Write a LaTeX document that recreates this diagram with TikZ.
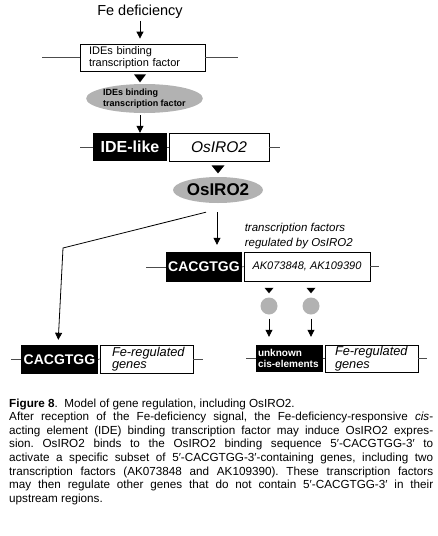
\documentclass[tikz,border=0pt]{standalone}
\usepackage{fontspec}
\setmainfont{Liberation Sans}
\usetikzlibrary{arrows.meta,shapes.geometric,positioning,calc}

\begin{document}
\begin{tikzpicture}[x=1pt, y=-1pt,
    wbox/.style={draw, line width=0.8pt, inner sep=0pt, align=left},
    bbox/.style={fill=black, text=white, inner sep=0pt, align=left},
    goval/.style={ellipse, fill=black!30, inner sep=0pt, align=left},
    gdot/.style={circle, fill=black!30, minimum size=17pt, inner sep=0pt},
    arr/.style={-{Triangle[length=7pt,width=7pt]}, line width=0.8pt},
    dna/.style={line width=0.8pt, black!70},
    tri/.style={fill=black},
]
\useasboundingbox (0,0) rectangle (438,536);

% ── Fe deficiency -> IDE binding factor ──
\node[inner sep=0pt, font=\fontsize{14.5}{16}\selectfont] (fe) at (140,12) {Fe deficiency};
\node[wbox, inner xsep=9pt, text width=107pt, minimum height=27pt, font=\fontsize{11}{12}\selectfont] (tfg) at (142.5,57.5) {IDEs binding\\transcription factor};
\draw[dna] (tfg.west) -- ++(-38,0);
\draw[dna] (tfg.east) -- ++(33,0);
\draw[arr, shorten <=2pt, shorten >=5pt] (fe.south) -- (fe.south |- tfg.north);
\fill[tri] ($(tfg.south)+(-8.5,3)$) -- ++(12,0) -- ++(-6,8) -- cycle;

\node[goval, minimum width=115pt, minimum height=29pt, font=\fontsize{9}{10.5}\selectfont\bfseries] (tfo) at (144.5,98.5) {IDEs binding\\transcription factor};

% ── IDE-like / OsIRO2 gene ──
\node[bbox, minimum width=74pt, minimum height=28pt, font=\fontsize{16}{18}\selectfont\bfseries] (ide) at (130,147) {IDE-like};
\node[wbox, minimum width=100pt, minimum height=28pt, font=\fontsize{15.5}{17}\selectfont\itshape] (iro) at (219,147) {OsIRO2};
\draw[dna] (ide.west) -- ++(-13,0);
\draw[dna] (ide.east) -- (iro.west);
\draw[dna] (iro.east) -- ++(11,0);
\draw[arr, shorten <=2pt] (tfo.south -| fe.south) -- (fe.south |- ide.north);
\fill[tri] ($(iro.south)+(-7.5,4)$) -- ++(13,0) -- ++(-6.5,8) -- cycle;

\node[goval, minimum width=90pt, minimum height=26pt, font=\fontsize{17}{19}\selectfont\bfseries] (irop) at (218,190) {OsIRO2};
\coordinate (vs) at ($(irop.south)+(-1,9)$);
\coordinate (ds) at ($(irop.south)+(-12,9)$);
\coordinate (bend) at (63,248);

% ── CACGTGG target: transcription factors ──
\node[bbox, minimum width=76pt, minimum height=30pt, font=\fontsize{14}{16}\selectfont\bfseries] (cacA) at (204,267) {CACGTGG};
\node[wbox, minimum width=126pt, minimum height=29pt, font=\fontsize{11}{12}\selectfont\itshape] (ak) at (307,266.5) {AK073848, AK109390};
\node[anchor=south west, inner xsep=1pt, inner ysep=3pt, align=left, font=\fontsize{11.5}{15}\selectfont\itshape] (tfl) at (ak.north west) {transcription factors\\regulated by OsIRO2};
\draw[dna] (cacA.west) -- ++(-20,0);
\draw[dna] (cacA.east) -- (ak.west);
\draw[dna] (ak.east) -- ++(9,0);
\draw[arr, shorten >=7pt] (vs) -- (vs |- cacA.north);

% ── CACGTGG target: Fe-regulated genes ──
\node[bbox, minimum width=77pt, minimum height=29pt, font=\fontsize{14}{16}\selectfont\bfseries] (cacB) at (59.5,359.5) {CACGTGG};
\node[wbox, inner xsep=12pt, text width=69pt, minimum height=28pt, font=\fontsize{12.8}{12.5}\selectfont\itshape] (feg) at (146.5,359) {\mbox{Fe-regulated}\\genes};
\draw[dna] (cacB.west) -- ++(-10,0);
\draw[dna] (cacB.east) -- (feg.west);
\draw[dna] (feg.east) -- ++(10,0);
\draw[arr, shorten >=5pt] (ds) -- (bend) -- ($(cacB.north)+(-1.5,0)$);

% ── unknown cis-elements ──
\node[bbox, inner xsep=2pt, text width=63pt, minimum height=27pt, font=\fontsize{10}{11}\selectfont\bfseries] (unk) at (289.5,358.5) {unknown\\cis-elements};
\node[wbox, inner xsep=10pt, text width=73pt, minimum height=27pt, font=\fontsize{12.8}{12.5}\selectfont\itshape] (fegB) at (371.5,358.5) {\mbox{Fe-regulated}\\genes};
\draw[dna] (unk.west) -- ++(-10,0);
\draw[dna] (unk.east) -- (fegB.west);
\draw[dna] (fegB.east) -- ++(9,0);

\node[gdot] (dA) at (269,306) {};
\node[gdot] (dB) at (311,306) {};
\foreach \d in {dA,dB} {
  \fill[tri] ($(\d.north)+(-4.5,-9.5)$) -- ++(9,0) -- ++(-4.5,5.5) -- cycle;
  \draw[arr, shorten <=4pt, shorten >=8pt] (\d.south) -- (\d.south |- unk.north);
}

% ── caption ──
\node[anchor=base west, inner sep=0pt, text width=424pt, align=justify, font=\fontsize{11.7}{13.6}\selectfont] (cap) at (9,407) {\frenchspacing\hyphenpenalty=10000 \exhyphenpenalty=10000 \tolerance=9999
\textbf{Figure 8}.\ \ Model of gene regulation, including OsIRO2.\par
After reception of the Fe-deficiency signal, the Fe-deficiency-responsive \textit{cis}-\linebreak
acting element (IDE) binding transcription factor may induce OsIRO2 expres-\linebreak
sion. OsIRO2 binds to the OsIRO2 binding sequence 5′-CACGTGG-3′ to\linebreak
activate a specific subset of 5′-CACGTGG-3′-containing genes, including two\linebreak
transcription factors (AK073848 and AK109390). These transcription factors\linebreak
may then regulate other genes that do not contain 5′-CACGTGG-3′ in their\linebreak
upstream regions.};
\end{tikzpicture}
\end{document}
